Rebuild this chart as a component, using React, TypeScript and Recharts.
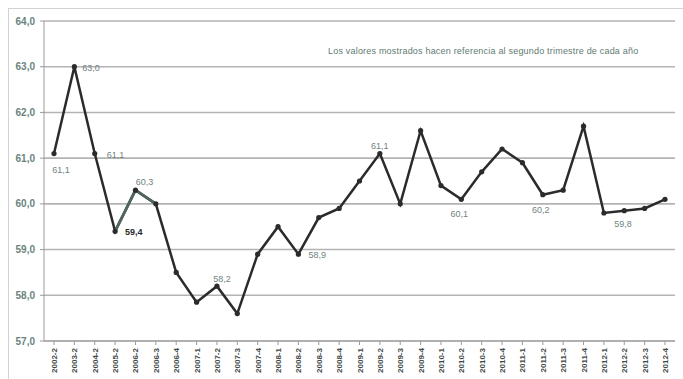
import { LineChart, Line, XAxis, YAxis, CartesianGrid } from "recharts";

// Quarter of each reading (second quarter until 2006, then every quarter)
const periods = [
  "2002-2", "2003-2", "2004-2", "2005-2", "2006-2", "2006-3", "2006-4",
  "2007-1", "2007-2", "2007-3", "2007-4", "2008-1", "2008-2", "2008-3", "2008-4",
  "2009-1", "2009-2", "2009-3", "2009-4", "2010-1", "2010-2", "2010-3", "2010-4",
  "2011-1", "2011-2", "2011-3", "2011-4", "2012-1", "2012-2", "2012-3", "2012-4",
];

const values = [
  61.1, 63.0, 61.1, 59.4, 60.3, 60.0, 58.5,
  57.85, 58.2, 57.6, 58.9, 59.5, 58.9, 59.7, 59.9,
  60.5, 61.1, 60.0, 61.6, 60.4, 60.1, 60.7, 61.2,
  60.9, 60.2, 60.3, 61.7, 59.8, 59.85, 59.9, 60.1,
];

const yTicks = [57, 58, 59, 60, 61, 62, 63, 64];

// stretch drawn in the lighter green tone
const highlightFrom = "2005-2";
const highlightTo = "2006-3";

const note = "Los valores mostrados hacen referencia al segundo trimestre de cada año";

const fmt = (v: number) => v.toFixed(1).replace(".", ",");

// where each value label sits relative to its point: [dx, dy, anchor]
const labelSpots: Record<string, [number, number, string]> = {
  "2002-2": [7, 19, "middle"],
  "2003-2": [8, 4, "start"],
  "2004-2": [12, 4, "start"],
  "2005-2": [10, 4, "start"],
  "2006-2": [9, -5, "middle"],
  "2007-2": [5, -4, "middle"],
  "2008-2": [10, 4, "start"],
  "2009-2": [0, -5, "middle"],
  "2010-2": [-2, 18, "middle"],
  "2011-2": [-2, 18, "middle"],
  "2012-1": [19, 14, "middle"],
};

const hiStart = periods.indexOf(highlightFrom);
const hiEnd = periods.indexOf(highlightTo);

const data = periods.map((period, i) => ({
  period,
  value: values[i],
  highlight: i >= hiStart && i <= hiEnd ? values[i] : null,
}));

const font = "'Liberation Sans', Arial, sans-serif";

const PeriodTick = ({ x, y, payload }: any) => (
  <text
    x={x}
    y={y}
    transform={`rotate(-90 ${x} ${y})`}
    textAnchor="end"
    dy={3}
    fontSize={8}
    fontWeight={700}
    fill="#3f4b48"
    fontFamily={font}
  >
    {payload.value}
  </text>
);

const PointWithLabel = (props: any) => {
  const { cx, cy, payload, index } = props;
  const spot = labelSpots[payload.period];
  const strong = payload.period === "2005-2";
  return (
    <g key={`pt-${index}`}>
      <circle cx={cx} cy={cy} r={2.6} fill="#2b2b2b" />
      {spot && (
        <text
          x={cx + spot[0]}
          y={cy + spot[1]}
          textAnchor={spot[2] as any}
          fontSize={9}
          fontWeight={strong ? 700 : 400}
          fill={strong ? "#2b2b2b" : "#6f837e"}
          fontFamily={font}
        >
          {fmt(payload.value)}
        </text>
      )}
    </g>
  );
};

export default function App() {
  return (
    <div
      style={{
        position: "absolute",
        left: 0,
        top: 0,
        width: 683,
        height: 379,
        overflow: "hidden",
        background: "#fff",
      }}
    >
      <div
        style={{
          position: "absolute",
          left: 8,
          top: 8,
          width: 720,
          height: 420,
          border: "1px solid #d2d2d2",
        }}
      />
      <LineChart
        width={683}
        height={379}
        data={data}
        margin={{ top: 21, right: 8, bottom: 0, left: 0 }}
        style={{ position: "absolute", left: 0, top: 0 }}
      >
        <CartesianGrid vertical={false} stroke="#b3b3b3" strokeWidth={1.6} />
        <XAxis
          dataKey="period"
          interval={0}
          height={38}
          padding={{ left: 10, right: 10 }}
          tick={<PeriodTick />}
          tickSize={4}
          tickMargin={3}
          stroke="#9a9a9a"
        />
        <YAxis
          domain={[57, 64]}
          ticks={yTicks}
          width={44}
          tickFormatter={fmt}
          tickSize={4}
          tickMargin={5}
          stroke="#9a9a9a"
          tick={{ fontSize: 10, fontWeight: 700, fill: "#6a847d", fontFamily: font }}
        />
        <Line
          type="linear"
          dataKey="value"
          stroke="#2b2b2b"
          strokeWidth={2.5}
          dot={<PointWithLabel />}
          activeDot={false}
          isAnimationActive={false}
        />
        <Line
          type="linear"
          dataKey="highlight"
          stroke="#51665f"
          strokeWidth={2.8}
          dot={false}
          activeDot={false}
          connectNulls={false}
          isAnimationActive={false}
        />
      </LineChart>
      <div
        style={{
          position: "absolute",
          left: 328,
          top: 46,
          fontSize: 9,
          letterSpacing: 0.2,
          color: "#5f7a72",
          fontFamily: font,
          whiteSpace: "nowrap",
        }}
      >
        {note}
      </div>
    </div>
  );
}
